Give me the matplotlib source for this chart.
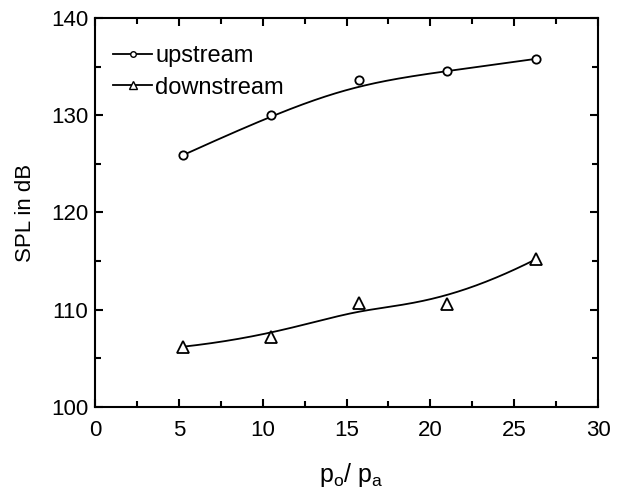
import numpy as np
import matplotlib
matplotlib.use("Agg")
import matplotlib.pyplot as plt
from matplotlib.ticker import MultipleLocator

plt.rcParams['font.family'] = ['Liberation Sans', 'DejaVu Sans']

# pressure ratio p_o / p_a
pressure_ratio = [5.25, 10.5, 15.75, 21.0, 26.3]
# sound pressure level in dB
spl_upstream = [125.9, 130.0, 133.6, 134.5, 135.8]
spl_downstream = [106.2, 107.2, 110.7, 110.6, 115.2]


def bspline_basis(i, k, t, knots):
    """Cox-de Boor recursion for the B-spline basis N_{i,k}(t)."""
    if k == 0:
        last = (knots[i + 1] == knots[-1]) & (t == knots[-1])
        return np.where(((knots[i] <= t) & (t < knots[i + 1])) | last, 1.0, 0.0)
    out = np.zeros_like(t)
    d1 = knots[i + k] - knots[i]
    if d1 > 0:
        out += (t - knots[i]) / d1 * bspline_basis(i, k - 1, t, knots)
    d2 = knots[i + k + 1] - knots[i + 1]
    if d2 > 0:
        out += (knots[i + k + 1] - t) / d2 * bspline_basis(i + 1, k - 1, t, knots)
    return out


def bspline_curve(xp, yp, degree=3, n=300):
    """Clamped uniform B-spline using the points as control polygon."""
    m = len(xp)
    inner = np.linspace(0, 1, m - degree + 1)[1:-1]
    knots = np.concatenate([np.zeros(degree + 1), inner, np.ones(degree + 1)])
    t = np.linspace(0, 1, n)
    B = np.array([bspline_basis(i, degree, t, knots) for i in range(m)])
    return B.T @ np.asarray(xp), B.T @ np.asarray(yp)


fig = plt.figure(figsize=(6.24, 4.92), dpi=100)
ax = fig.add_axes([95 / 624, 1 - 407 / 492, 503 / 624, 389 / 492])

series = [(spl_upstream, 'o', 6, 'upstream'),
          (spl_downstream, '^', 8, 'downstream')]
for y, marker, ms, label in series:
    cx, cy = bspline_curve(pressure_ratio, y)
    ax.plot(cx, cy, color='black', lw=1.3)
    ax.plot(pressure_ratio, y, linestyle='none', marker=marker, ms=ms,
            mfc='white', mec='black', mew=1.3)
    ax.plot([], [], color='black', lw=1.3, marker=marker, ms=ms - 2,
            mfc='white', mec='black', mew=1.0, label=label)

ax.set_xlim(0, 30)
ax.set_ylim(100, 140)
ax.xaxis.set_major_locator(MultipleLocator(5))
ax.xaxis.set_minor_locator(MultipleLocator(2.5))
ax.yaxis.set_major_locator(MultipleLocator(10))
ax.yaxis.set_minor_locator(MultipleLocator(5))
ax.tick_params(which='both', direction='in', top=True, right=True,
               width=1.5, labelsize=16)
ax.tick_params(axis='x', pad=9)
ax.tick_params(axis='y', pad=5)
ax.tick_params(which='major', length=6)
ax.tick_params(which='minor', length=4)
for s in ax.spines.values():
    s.set_linewidth(1.5)

ax.set_xlabel(r'p$_\mathregular{o}$/ p$_\mathregular{a}$', fontsize=18, labelpad=15)
ax.xaxis.label.set_x(0.51)
ax.set_ylabel('SPL in dB', fontsize=16, labelpad=11)

ax.legend(loc='upper left', frameon=False, fontsize=17, handlelength=1.65,
          handletextpad=0.13, borderpad=0.0, borderaxespad=0.0,
          labelspacing=0.4, bbox_to_anchor=(0.036, 0.93))

fig.savefig('out.png', dpi=100)
